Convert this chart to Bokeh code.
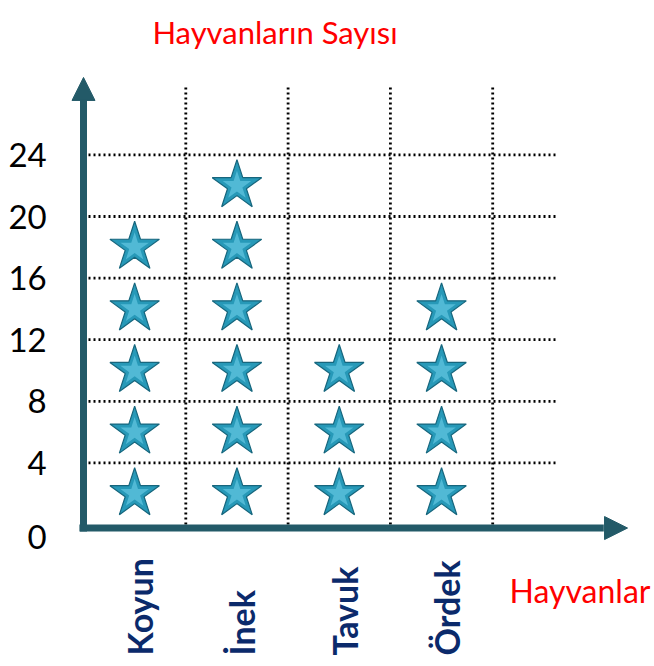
from bokeh.plotting import figure
from bokeh.models import Range1d, ColumnDataSource, Arrow, NormalHead
from bokeh.core.properties import value
from bokeh.embed import file_html
from bokeh.resources import INLINE
import math

# ---- data ----
animals = ["Koyun", "İnek", "Tavuk", "Ördek"]
counts = [20, 24, 12, 16]
star_value = 4
y_ticks = [0, 4, 8, 12, 16, 20, 24]
y_title = "Hayvanların Sayısı"
x_title = "Hayvanlar"

# ---- layout constants (pixels per data unit) ----
W, H = 654, 666
PX_X = 102.3
PX_Y = 15.4
X0_PX = 83
Y0_PX = 524

AXIS_COLOR = "#235a68"
LABEL_COLOR = "#0b2a6b"

p = figure(width=W, height=H,
           x_range=Range1d(-X0_PX / PX_X, (W - X0_PX) / PX_X),
           y_range=Range1d(-(H - Y0_PX) / PX_Y, Y0_PX / PX_Y),
           x_axis_type=None, y_axis_type=None,
           output_backend="svg", toolbar_location=None,
           min_border=0, outline_line_color=None,
           background_fill_color="white", border_fill_color="white")
p.xgrid.visible = False
p.ygrid.visible = False

n = len(animals)
grid_right = n + 0.62
grid_top = 28.44

# horizontal dotted gridlines
hy = [t for t in y_ticks if t > 0]
p.segment(x0=[0] * len(hy), y0=hy, x1=[grid_right] * len(hy), y1=hy,
          line_color="black", line_width=2.8, line_dash="2 3", line_cap="butt")
# vertical dotted gridlines
vx = list(range(1, n + 1))
p.segment(x0=vx, y0=[0] * len(vx), x1=vx, y1=[grid_top] * len(vx),
          line_color="black", line_width=2.8, line_dash="2 3", line_cap="butt")

# axes lines
axis_y_pos = -0.23
y_tip = 29.03
y_base = 27.58
x_tip = 5.318
x_base = 5.086
p.segment(x0=[0], y0=[-0.45], x1=[0], y1=[y_base], line_color=AXIS_COLOR, line_width=7)
p.segment(x0=[-0.04], y0=[axis_y_pos], x1=[x_base], y1=[axis_y_pos], line_color=AXIS_COLOR, line_width=7)
p.add_layout(Arrow(end=NormalHead(size=23, fill_color=AXIS_COLOR, line_color=AXIS_COLOR),
                   x_start=0, y_start=y_base - 0.5, x_end=0, y_end=y_tip, line_alpha=0))
p.add_layout(Arrow(end=NormalHead(size=23, fill_color=AXIS_COLOR, line_color=AXIS_COLOR),
                   x_start=x_base - 0.05, y_start=axis_y_pos, x_end=x_tip, y_end=axis_y_pos, line_alpha=0))

# y tick labels
p.text(x=[-0.36] * len(y_ticks), y=y_ticks, text=[str(t) for t in y_ticks],
       y_offset=[12 if t == 0 else 0 for t in y_ticks],
       text_align="right", text_baseline="middle",
       text_font=value("Lato"), text_font_size="33px", text_color="black")

# stars
sx, sy = [], []
for i, c in enumerate(counts):
    for k in range(c // star_value):
        sx.append(i + 0.5)
        sy.append(k * star_value + star_value / 2)
src = ColumnDataSource(dict(x=sx, y=sy))
p.scatter("x", "y", source=src, marker="star", size=52,
          fill_color="#2799b8", line_color="#17667d", line_width=1.2)
p.scatter("x", "y", source=src, marker="star", size=30,
          fill_color="#74d4ec", line_color=None, fill_alpha=0.55)

# category labels (rotated)
p.text(x=[i + 0.5 for i in range(n)], y=[-8.5] * n, text=animals,
       x_offset=5, angle=math.pi / 2,
       text_align="left", text_baseline="middle",
       text_font=value("Lato"), text_font_style="bold",
       text_font_size="34px", text_color=LABEL_COLOR)

# titles
p.text(x=[1.872], y=[31.95], text=[y_title], text_align="center", text_baseline="alphabetic",
       text_font=value("Lato"), text_font_size="31px", text_color="#ff0000")
p.text(x=[4.164], y=[-4.286], text=[x_title], text_align="left", text_baseline="alphabetic",
       text_font=value("Lato"), text_font_size="32px", text_color="#ff0000")

open("out.html", "w").write(file_html(p, INLINE))
